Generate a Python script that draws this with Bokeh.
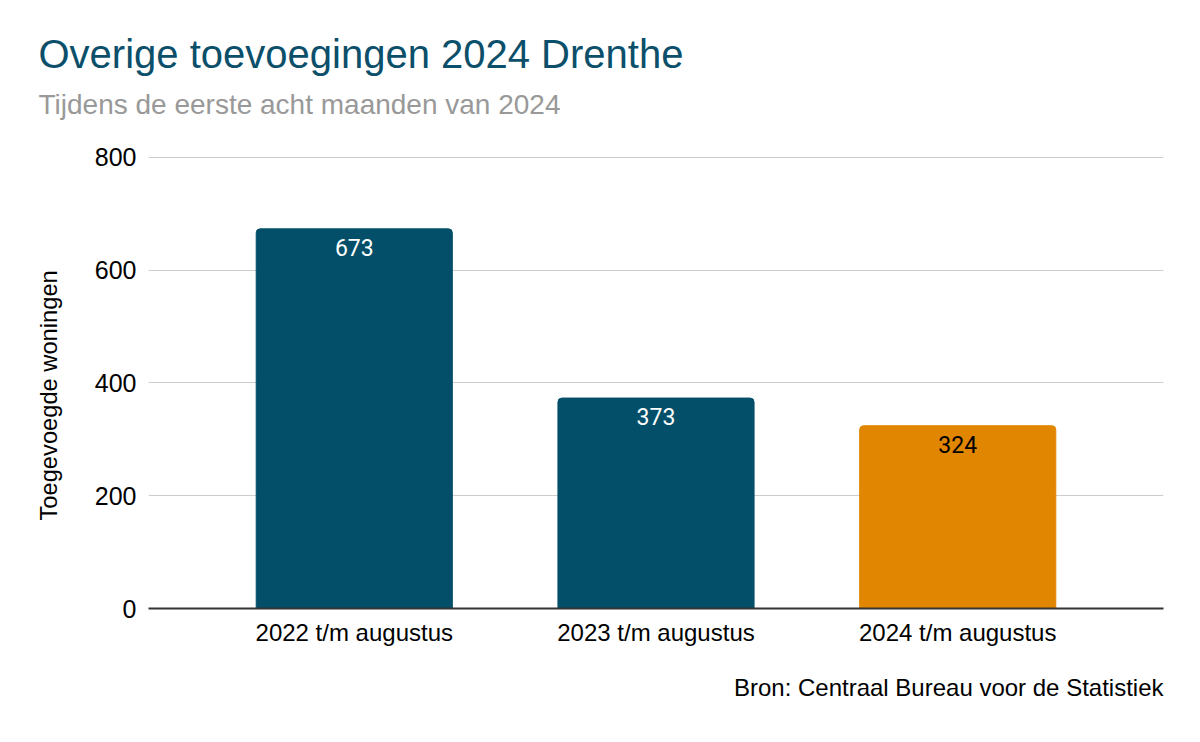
from bokeh.plotting import figure
from bokeh.models import ColumnDataSource, FactorRange, Title, LabelSet, FixedTicker
from bokeh.embed import file_html
from bokeh.resources import INLINE
from bokeh.core.properties import value

categories = ["2022 t/m augustus", "2023 t/m augustus", "2024 t/m augustus"]
values = [673, 373, 324]
bar_colors = ["#034f69", "#034f69", "#e08600"]
label_colors = ["#ffffff", "#ffffff", "#000000"]
y_ticks = [0, 200, 400, 600, 800]

title_text = "Overige toevoegingen 2024 Drenthe"
subtitle_text = "Tijdens de eerste acht maanden van 2024"
source_text = "Bron: Centraal Bureau voor de Statistiek"
y_label = "Toegevoegde woningen"

src = ColumnDataSource(dict(cat=categories, val=values, color=bar_colors, lcolor=label_colors))

p = figure(
    width=1184, height=726,
    x_range=FactorRange(*categories, range_padding=0.182, range_padding_units="absolute"),
    y_range=(0, 803),
    output_backend="svg", toolbar_location=None,
    min_border_left=148, min_border_right=21, min_border_top=155, min_border_bottom=118,
)
p.outline_line_color = None
p.background_fill_color = "white"
p.border_fill_color = "white"

p.vbar(x="cat", top="val", width=0.65, color="color", source=src, border_radius=(4, 4, 0, 0))

labels = LabelSet(x="cat", y="val", text="val", source=src, text_align="center",
                  text_baseline="top", y_offset=-10, text_color="lcolor",
                  text_font=value("Roboto"), text_font_size="23px")
p.add_layout(labels)

font = "Liberation Sans"
p.yaxis.ticker = FixedTicker(ticks=y_ticks)
p.yaxis.axis_line_color = None
p.yaxis.major_tick_line_color = None
p.yaxis.minor_tick_line_color = None
p.yaxis.major_tick_out = 0
p.yaxis.major_tick_in = 0
p.yaxis.major_label_text_font = font
p.yaxis.major_label_text_font_size = "25px"
p.yaxis.major_label_text_color = "#000000"
p.yaxis.major_label_standoff = 12

p.xaxis.axis_line_color = "#333333"
p.xaxis.axis_line_width = 2
p.xaxis.major_tick_line_color = None
p.xaxis.minor_tick_line_color = None
p.xaxis.major_label_text_font = font
p.xaxis.major_label_text_font_size = "24px"
p.xaxis.major_label_text_color = "#000000"
p.xaxis.major_label_standoff = 4

p.xgrid.grid_line_color = None
p.ygrid.grid_line_color = "#cccccc"
p.ygrid.grid_line_width = 1

p.add_layout(Title(text=subtitle_text, text_font=font, text_font_size="28px",
                   text_font_style="normal", text_color="#999999", align="left",
                   offset=-110, standoff=72), "above")
p.add_layout(Title(text=title_text, text_font=font, text_font_size="40px",
                   text_font_style="normal", text_color="#0b4f6a", align="left",
                   offset=-110, standoff=-51), "above")
p.add_layout(Title(text=y_label, text_font=font, text_font_size="23.7px",
                   text_font_style="normal", text_color="#000000", align="left",
                   offset=88, standoff=60), "left")
p.add_layout(Title(text=source_text, text_font=font, text_font_size="24px",
                   text_font_style="normal", text_color="#000000", align="right",
                   standoff=47), "below")

open("out.html", "w").write(file_html(p, INLINE))
